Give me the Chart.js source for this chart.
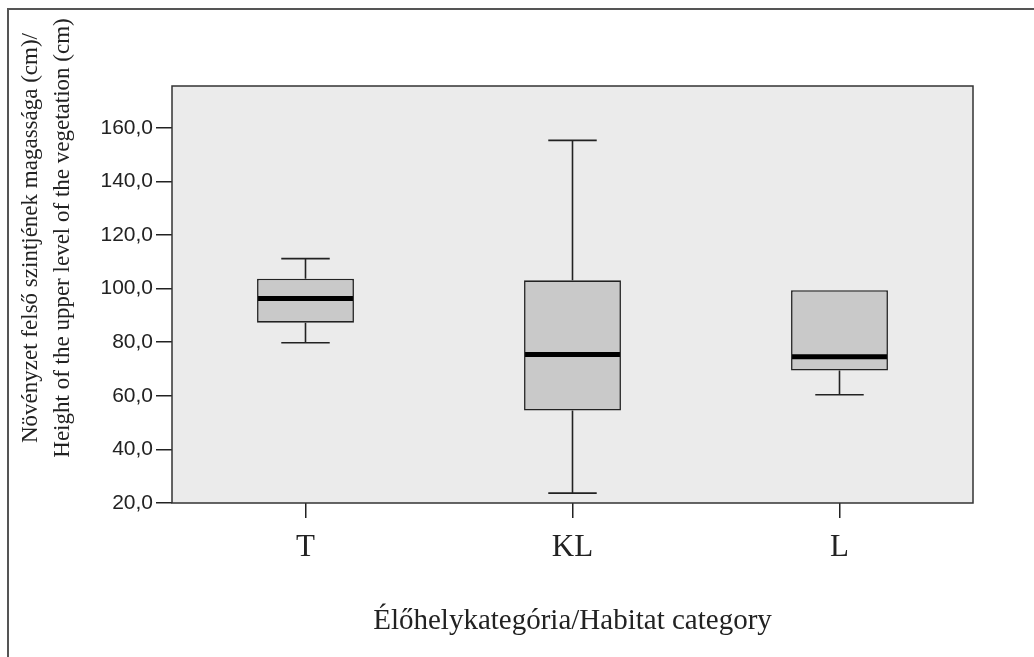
<!DOCTYPE html>
<html>
<head>
<meta charset="utf-8">
<script src="https://cdn.jsdelivr.net/npm/chart.js@4.4.1/dist/chart.umd.min.js"></script>
<style>
  html, body { margin: 0; padding: 0; background: #fff; }
  canvas { display: block; }
</style>
</head>
<body>
<canvas id="boxChart" width="1034" height="657"></canvas>
<script>
// habitat categories and box-plot statistics (cm)
var categories = ['T', 'KL', 'L'];
var whiskerLow = [79.8, 23.7, 60.4];
var quartile1 = [87.3, 54.5, 69.4];
var medians = [96.3, 75.4, 74.6];
var quartile3 = [103.7, 103.1, 99.4];
var whiskerHigh = [111.2, 155.3, 99.4];
var yTicks = [20, 40, 60, 80, 100, 120, 140, 160];

var yTitleLines = ['Növényzet felső szintjének magassága (cm)/', 'Height of the upper level of the vegetation (cm)'];
var xTitle = 'Élőhelykategória/Habitat category';

var serif = '"Liberation Serif", "Times New Roman", serif';
var sans = '"Liberation Sans", Arial, sans-serif';
var ink = '#222';

// plot background, frame, outer border and y title
var framePlugin = {
  id: 'frame',
  beforeDraw: function (chart) {
    var ctx = chart.ctx, a = chart.chartArea;
    ctx.save();
    ctx.fillStyle = '#fff';
    ctx.fillRect(0, 0, chart.width, chart.height);
    ctx.strokeStyle = '#555';
    ctx.lineWidth = 2;
    ctx.beginPath();
    ctx.moveTo(8, chart.height);
    ctx.lineTo(8, 9);
    ctx.lineTo(chart.width, 9);
    ctx.stroke();
    ctx.fillStyle = '#ebebeb';
    ctx.fillRect(a.left, a.top, a.right - a.left, a.bottom - a.top);
    ctx.restore();
  },
  afterDraw: function (chart) {
    var ctx = chart.ctx, a = chart.chartArea;
    ctx.save();
    ctx.strokeStyle = '#333';
    ctx.lineWidth = 1.5;
    ctx.strokeRect(a.left, a.top, a.right - a.left, a.bottom - a.top);
    // y axis title, two rotated lines
    ctx.fillStyle = ink;
    ctx.font = '23px ' + serif;
    ctx.textAlign = 'center';
    ctx.textBaseline = 'middle';
    ctx.translate(31, 238);
    ctx.rotate(-Math.PI / 2);
    yTitleLines.forEach(function (line, i) {
      ctx.fillText(line, 0, i * 32);
    });
    ctx.restore();
  }
};

// whiskers and medians from the data arrays
var whiskerPlugin = {
  id: 'whiskers',
  afterDatasetsDraw: function (chart) {
    var ctx = chart.ctx;
    var y = chart.scales.y;
    var meta = chart.getDatasetMeta(0);
    ctx.save();
    meta.data.forEach(function (bar, i) {
      var x = bar.x, half = bar.width / 2, cap = bar.width / 4;
      var yHi = y.getPixelForValue(whiskerHigh[i]);
      var yLo = y.getPixelForValue(whiskerLow[i]);
      var yQ1 = y.getPixelForValue(quartile1[i]);
      var yQ3 = y.getPixelForValue(quartile3[i]);
      ctx.strokeStyle = ink;
      ctx.lineWidth = 1.6;
      ctx.beginPath();
      if (whiskerHigh[i] > quartile3[i]) {
        ctx.moveTo(x, yQ3); ctx.lineTo(x, yHi);
        ctx.moveTo(x - cap, yHi); ctx.lineTo(x + cap, yHi);
      }
      if (whiskerLow[i] < quartile1[i]) {
        ctx.moveTo(x, yQ1); ctx.lineTo(x, yLo);
        ctx.moveTo(x - cap, yLo); ctx.lineTo(x + cap, yLo);
      }
      ctx.stroke();
      var yMed = y.getPixelForValue(medians[i]);
      ctx.strokeStyle = '#000';
      ctx.lineWidth = 5;
      ctx.beginPath();
      ctx.moveTo(x - half + 1, yMed);
      ctx.lineTo(x + half - 1, yMed);
      ctx.stroke();
    });
    ctx.restore();
  }
};

new Chart(document.getElementById('boxChart').getContext('2d'), {
  type: 'bar',
  data: {
    labels: categories,
    datasets: [{
      data: categories.map(function (c, i) { return [quartile1[i], quartile3[i]]; }),
      backgroundColor: '#c9c9c9',
      borderColor: ink,
      borderWidth: 1.6,
      borderSkipped: false,
      barPercentage: 0.363,
      categoryPercentage: 1
    }]
  },
  options: {
    responsive: false,
    animation: false,
    layout: { padding: { top: 86, right: 61, bottom: 0, left: 0 } },
    plugins: {
      legend: { display: false },
      tooltip: { enabled: false }
    },
    scales: {
      x: {
        afterFit: function (scale) { scale.height = 154; },
        grid: { offset: false, drawOnChartArea: false, tickLength: 15, color: ink, lineWidth: 1.5 },
        border: { display: false },
        ticks: { color: ink, padding: 11, font: { family: serif, size: 31 } },
        title: {
          display: true,
          text: xTitle,
          color: ink,
          font: { family: serif, size: 29 },
          padding: { top: 0, bottom: 18 }
        }
      },
      y: {
        min: 20,
        max: 175.6,
        afterFit: function (scale) { scale.width = 172; },
        afterBuildTicks: function (scale) {
          scale.ticks = yTicks.map(function (v) { return { value: v }; });
        },
        grid: { drawOnChartArea: false, tickLength: 16, color: ink, lineWidth: 1.5 },
        border: { display: false },
        ticks: {
          color: ink,
          padding: 3,
          font: { family: sans, size: 21 },
          callback: function (v) { return v.toFixed(1).replace('.', ','); }
        }
      }
    }
  },
  plugins: [framePlugin, whiskerPlugin]
});
</script>
</body>
</html>
